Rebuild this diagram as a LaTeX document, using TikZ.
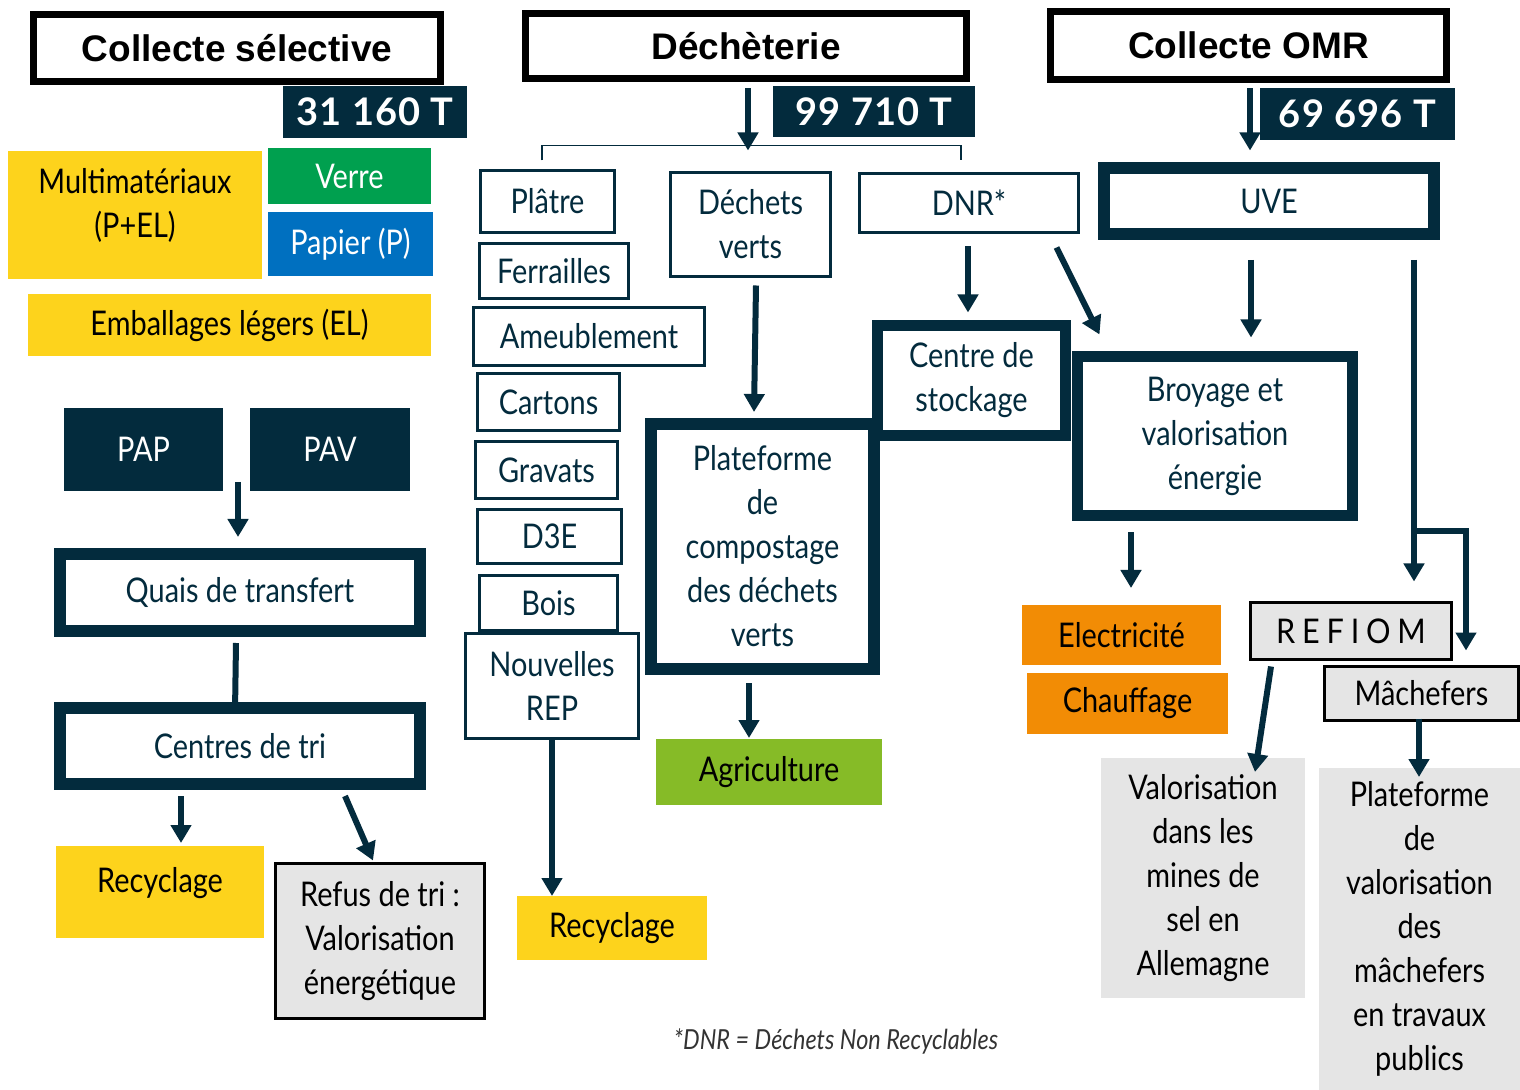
\documentclass[tikz,border=0pt]{standalone}
\usepackage{fontspec}
\setmainfont{Lato}[FakeStretch=0.85]
\newfontfamily\titlefont{Liberation Sans}
\newfontfamily\numfont{Lato}[LetterSpace=3]
\newfontfamily\spacedfont{Lato}[FakeStretch=0.9,LetterSpace=20]
\usetikzlibrary{arrows.meta,calc}
\definecolor{navy}{HTML}{032B3D}
\definecolor{ylw}{HTML}{FDD31C}
\definecolor{grn}{HTML}{00A04F}
\definecolor{blu}{HTML}{0070C0}
\definecolor{org}{HTML}{F28C05}
\definecolor{agr}{HTML}{86BB27}
\definecolor{gry}{HTML}{E5E5E5}
\newcommand\mybox[8]{%
 \pgfmathsetmacro\bw{(#6-#4-#3)*0.5}%
 \pgfmathsetmacro\bh{(#7-#5-#3)*0.5}%
 \node[#2, line width=#3*0.5pt, minimum width=\bw pt, minimum height=\bh pt, inner sep=0pt] (#1) at ({(#4+#6)/2},{(#5+#7)/2}) {#8};}
\tikzset{
 lbl/.style={font=\fontsize{17}{22}\selectfont, align=center, text=navy},
 wbox/.style={lbl, draw=navy, fill=white},
 ybox/.style={lbl, fill=ylw, text=black},
 obox/.style={lbl, fill=org, text=black},
 gbox/.style={lbl, fill=gry, text=black},
 gbbox/.style={lbl, fill=gry, text=black, draw=black},
 nbox/.style={lbl, fill=navy, text=white},
 title/.style={draw=black, fill=white, font=\titlefont\bfseries\fontsize{18.5}{22}\selectfont, text=black},
 num/.style={fill=navy, text=white, font=\numfont\bfseries\fontsize{19}{22}\selectfont},
 arr/.style={draw=navy, line width=3pt, -{Triangle[width=10pt,length=9pt]}},
 thinln/.style={draw=navy, line width=0.9pt},
}
\begin{document}
\begin{tikzpicture}[x=0.5pt,y=-0.5pt]
\useasboundingbox[fill=white] (0,0) rectangle (1520,1090);
% titles
\mybox{title1}{title}{7}{30}{11}{444}{85}{Collecte sélective}
\mybox{num1}{num}{0}{283}{86}{467}{138}{31 160 T}
\mybox{title2}{title}{7}{522}{10}{970}{82}{Déchèterie}
\mybox{num2}{num}{0}{773}{86}{975}{137}{99 710 T}
\mybox{title3}{title}{7}{1047}{8}{1450}{83}{Collecte OMR}
\mybox{num3}{num}{0}{1260}{88}{1455}{140}{69 696 T}
% left column
\mybox{multi}{ybox}{0}{8}{151}{262}{279}{Multimatériaux\\(P+EL)\\[-10pt]\mbox{}}
\mybox{verre}{lbl, fill=grn, text=white}{0}{268}{148}{431}{204}{Verre}
\mybox{papier}{lbl, fill=blu, text=white}{0}{268}{212}{433}{276}{Papier (P)}
\mybox{emb}{ybox}{0}{28}{294}{431}{356}{Emballages légers (EL)}
\mybox{pap}{nbox}{0}{64}{408}{223}{491}{PAP}
\mybox{pav}{nbox}{0}{250}{408}{410}{491}{PAV}
\mybox{quais}{wbox}{12}{54}{548}{426}{637}{Quais de transfert}
\mybox{centres}{wbox}{12}{54}{702}{426}{790}{Centres de tri}
\mybox{rec1}{ybox}{0}{56}{846}{264}{938}{Recyclage\\[-10pt]\mbox{}}
\mybox{refus}{gbbox}{3}{274}{862}{486}{1020}{Refus de tri :\\Valorisation\\énergétique}
% middle column
\mybox{platre}{wbox}{3}{479}{169}{616}{234}{Plâtre}
\mybox{ferr}{wbox}{3}{478}{242}{630}{300}{Ferrailles}
\mybox{ameub}{wbox}{3}{472}{306}{706}{367}{Ameublement}
\mybox{cartons}{wbox}{3}{476}{372}{621}{432}{Cartons}
\mybox{gravats}{wbox}{3}{474}{440}{619}{500}{Gravats}
\mybox{d3e}{wbox}{3}{476}{508}{623}{565}{D3E}
\mybox{bois}{wbox}{3}{478}{574}{619}{632}{Bois}
\mybox{rep}{wbox}{3}{464}{632}{640}{740}{Nouvelles\\REP}
\mybox{rec2}{ybox}{0}{517}{896}{707}{960}{Recyclage}
\mybox{dv}{wbox}{3}{669}{171}{832}{278}{Déchets\\verts}
\mybox{plat}{wbox}{12}{645}{418}{880}{675}{Plateforme\\de\\compostage\\des déchets\\verts}
\mybox{agri}{lbl, fill=agr, text=black}{0}{656}{739}{882}{805}{Agriculture}
\mybox{dnr}{wbox}{3}{858}{172}{1080}{234}{DNR*}
\mybox{stock}{wbox}{11}{872}{320}{1071}{441}{Centre de\\stockage}
\mybox{broy}{wbox}{11}{1072}{351}{1358}{521}{Broyage et\\valorisation\\énergie}
% right column
\mybox{uve}{wbox}{12}{1098}{162}{1440}{240}{UVE}
\mybox{elec}{obox}{0}{1022}{605}{1221}{665}{Electricité}
\mybox{chauf}{obox}{0}{1027}{673}{1228}{734}{Chauffage}
\mybox{refiom}{gbbox, font=\spacedfont\fontsize{17}{22}\selectfont}{3}{1249}{601}{1453}{661}{REFIOM}
\mybox{mach}{gbbox}{3}{1323}{665}{1520}{722}{Mâchefers}
\mybox{valo}{gbox}{0}{1101}{758}{1305}{998}{Valorisation\\dans les\\mines de\\sel en\\Allemagne}
\mybox{platv}{gbox}{0}{1319}{768}{1520}{1090}{Plateforme\\de\\valorisation\\des\\mâchefers\\en travaux\\publics}
\node[font=\itshape\fontsize{13.8}{16}\selectfont, text=black!80] (foot) at (836,1041) {*DNR = Déchets Non Recyclables};
% connectors
\draw[arr] ($(title2.south)+(2,6.5)$) -- ($(title2.south)+(2,68.5)$);
\draw[thinln] ($(platre.north)+(-5.5,-8.5)$) -- ++(0,-15) -| ($(dnr.north)+(-8,-11.5)$);
\draw[arr] ($(title3.south)+(1.5,5.5)$) -- ($(title3.south)+(1.5,67.5)$);
\draw[arr] ($(quais.north)+(-2,-66)$) -- ($(quais.north)+(-2,-11)$);
\draw[draw=navy, line width=3pt, -{Triangle[width=5pt,length=3pt]}] ($(quais.south)+(-4,6)$) -- ($(centres.north)+(-5,10)$);
\draw[arr] ($(centres.south)+(-59,6)$) -- ($(rec1.north)+(21,-3)$);
\draw[arr] ($(centres.south)+(105,6)$) -- ($(refus.north)+(-7,-1.5)$);
\draw[arr] (rep.south) -- ($(rec2.north)+(-60,0)$);
\draw[arr] ($(dv.south)+(5.5,7.5)$) -- ($(plat.north)+(-8.5,-6)$);
\draw[arr] ($(plat.south)+(-13.5,8)$) -- ($(agri.north)+(-20,-1)$);
\draw[arr] ($(dnr.south)+(-1,12.5)$) -- ($(stock.north)+(-3.5,-7.5)$);
\draw[arr] ($(dnr.south east)+(-23.5,13.5)$) -- ($(broy.north west)+(27.5,-16.5)$);
\draw[arr] ($(uve.south)+(-18,20)$) -- ($(broy.north)+(36,-13.5)$);
\draw[arr] ($(uve.south)+(145,20)$) -- ($(refiom.north)+(63,-19.5)$);
\draw[arr] ($(uve.south)+(145,291)$) -| ($(mach.north)+(44.5,-14.5)$);
\draw[arr] ($(broy.south)+(-84,11.5)$) -- ($(elec.north)+(9.5,-17)$);
\draw[arr] ($(refiom.south)+(-80,5.5)$) -- ($(valo.north)+(52,14)$);
\draw[arr] ($(mach.south)+(-2.5,-3.5)$) -- ($(platv.north)+(-0.5,9)$);
\end{tikzpicture}
\end{document}
